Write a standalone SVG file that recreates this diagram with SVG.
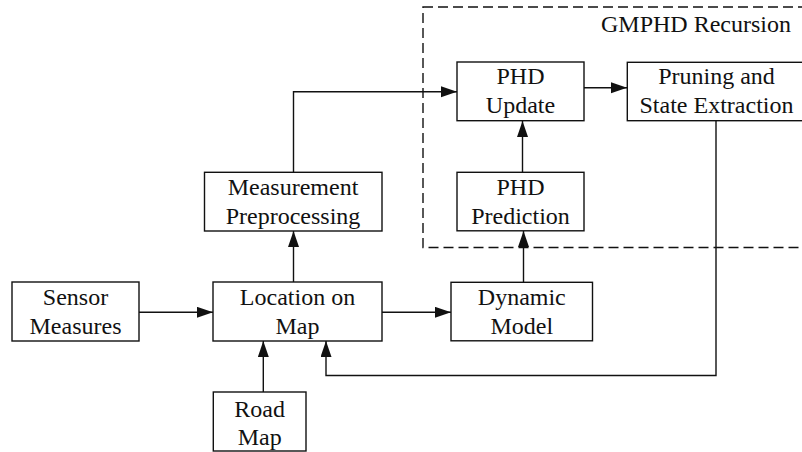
<svg xmlns="http://www.w3.org/2000/svg" width="802" height="452" viewBox="0 0 802 452">
<style>
.box{fill:#fff;stroke:#111;stroke-width:1.4}
.t{font-family:"Liberation Serif","Times New Roman",serif;font-size:24px;fill:#111;text-anchor:middle}
.c{fill:none;stroke:#111;stroke-width:1.4}
.dash{fill:none;stroke:#111;stroke-width:1.4;stroke-dasharray:10,5}
</style>
<defs>
<marker id="ah" markerUnits="userSpaceOnUse" markerWidth="17" markerHeight="12" refX="16" refY="5.5" orient="auto">
<path d="M0,0 L16,5.5 L0,11 z" fill="#111"/>
</marker>
</defs>
<g id="gmphd-region">
<rect class="dash" x="423" y="7" width="390" height="240.5"/>
<text class="t" x="601" y="31.5" style="text-anchor:start">GMPHD Recursion</text>
</g>
<g id="connectors">
<path class="c" d="M139,312.3 H213" marker-end="url(#ah)"/>
<path class="c" d="M293.5,282 V231" marker-end="url(#ah)"/>
<path class="c" d="M263.3,392 V341" marker-end="url(#ah)"/>
<path class="c" d="M382,312.3 H451" marker-end="url(#ah)"/>
<path class="c" d="M523.5,282 V231" marker-end="url(#ah)"/>
<path class="c" d="M522.5,172 V121" marker-end="url(#ah)"/>
<path class="c" d="M293.5,172 V91.7 H457" marker-end="url(#ah)"/>
<path class="c" d="M584,87.7 H627" marker-end="url(#ah)"/>
<path class="c" d="M716,121 V375.5 H326 V341" marker-end="url(#ah)"/>
</g>
<g id="sensor-measures">
<rect class="box" x="12" y="282" width="127" height="59"/>
<text class="t" x="75.5" y="305">Sensor</text>
<text class="t" x="75.5" y="334">Measures</text>
</g>
<g id="location-on-map">
<rect class="box" x="213" y="282" width="169" height="59"/>
<text class="t" x="297.5" y="305">Location on</text>
<text class="t" x="297.5" y="334">Map</text>
</g>
<g id="measurement-preprocessing">
<rect class="box" x="204.5" y="172.3" width="177.5" height="58.7"/>
<text class="t" x="293" y="195">Measurement</text>
<text class="t" x="293" y="223.5">Preprocessing</text>
</g>
<g id="road-map">
<rect class="box" x="213.3" y="392" width="92.7" height="59"/>
<text class="t" x="259.7" y="416.5">Road</text>
<text class="t" x="259.7" y="445">Map</text>
</g>
<g id="dynamic-model">
<rect class="box" x="451" y="282.3" width="141.5" height="58.5"/>
<text class="t" x="521.8" y="305">Dynamic</text>
<text class="t" x="521.8" y="334">Model</text>
</g>
<g id="phd-prediction">
<rect class="box" x="457" y="172.3" width="127" height="58.5"/>
<text class="t" x="520.5" y="195">PHD</text>
<text class="t" x="520.5" y="223.5">Prediction</text>
</g>
<g id="phd-update">
<rect class="box" x="457" y="62" width="127" height="58.7"/>
<text class="t" x="520.5" y="83.5">PHD</text>
<text class="t" x="520.5" y="113.3">Update</text>
</g>
<g id="pruning-state-extraction">
<rect class="box" x="627.3" y="62.3" width="178.4" height="58.4"/>
<text class="t" x="716.5" y="83.5">Pruning and</text>
<text class="t" x="716.5" y="113.3">State Extraction</text>
</g>
</svg>
